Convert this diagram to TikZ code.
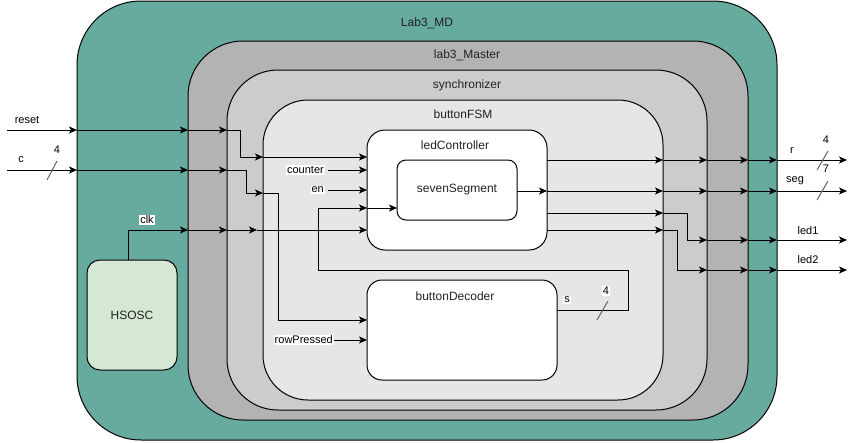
\documentclass[tikz,border=0pt]{standalone}
\usepackage{fontspec}
\setmainfont{Liberation Sans}
\usetikzlibrary{arrows.meta}
\definecolor{tealmd}{HTML}{67AB9F}
\definecolor{gA}{HTML}{B3B3B3}
\definecolor{gB}{HTML}{CCCCCC}
\definecolor{gC}{HTML}{E6E6E6}
\definecolor{hsg}{HTML}{D5E8D4}
\definecolor{txt}{HTML}{222222}
\begin{document}
\begin{tikzpicture}[x=1pt,y=-1pt,
  box/.style={draw=black,line width=1pt,anchor=north west,inner sep=0pt,outer sep=0pt},
  lbl/.style={font=\fontsize{12}{14}\selectfont,text=txt,inner sep=0pt},
  sl/.style={font=\fontsize{11}{13}\selectfont,text=black,inner sep=1pt},
  wl/.style={sl,fill=white},
  arr/.style={-{Stealth[length=8pt,width=7pt,inset=2pt]},line width=1pt},
  slash/.style={draw=gray!80!black,line width=1pt}]
\useasboundingbox (0,0) rectangle (857,442);

% containers
\node[box,fill=tealmd,minimum width=700pt,minimum height=439pt,rounded corners=64pt] (md) at (77,1) {};
\node[box,fill=gA,minimum width=560pt,minimum height=379pt,rounded corners=55pt] (master) at (188,41) {};
\node[box,fill=gB,minimum width=480pt,minimum height=340pt,rounded corners=51pt] (sync) at (227,70) {};
\node[box,fill=gC,minimum width=400pt,minimum height=300pt,rounded corners=45pt] (fsm) at (263,100) {};
\node[box,fill=white,minimum width=180pt,minimum height=120pt,rounded corners=18pt] (ledc) at (367,130) {};
\node[box,fill=white,minimum width=120pt,minimum height=60pt,rounded corners=9pt] (seven) at (397,160) {};
\node[box,fill=white,minimum width=190pt,minimum height=100pt,rounded corners=15pt] (bdec) at (367,280) {};
\node[box,fill=hsg,minimum width=90pt,minimum height=110pt,rounded corners=13pt] (hsosc) at (87,260) {};

% titles
\node[lbl] (tmd) at (427,23) {Lab3\_MD};
\node[lbl] (tmaster) at (467,55) {lab3\_Master};
\node[lbl] (tsync) at (467,85) {synchronizer};
\node[lbl] (tfsm) at (463,114) {buttonFSM};
\node[lbl] (tledc) at (455,145) {ledController};
\node[lbl] (tseven) at (457,190) {sevenSegment};
\node[lbl] (tbdec) at (455,296) {buttonDecoder};
\node[lbl] (thsosc) at (132,315) {HSOSC};

% reset
\coordinate (rs0) at (7,130);
\coordinate (rs1) at (77,130);
\coordinate (rs2) at (188,130);
\coordinate (rs3) at (227,130);
\coordinate (rs4) at (263,157);
\coordinate (rs5) at (367,157);
\draw[arr] (rs0) -- (rs1);
\draw[arr] (rs1) -- (rs2);
\draw[arr] (rs2) -- (rs3);
\draw[arr] (rs3) -- (240,130) |- (rs4);
\draw[arr] (rs4) -- (rs5);
\node[sl] (treset) at (27,120) {reset};

% c
\coordinate (c0) at (7,170);
\coordinate (c1) at (77,170);
\coordinate (c2) at (188,170);
\coordinate (c3) at (227,170);
\coordinate (c4) at (263,193);
\coordinate (c5) at (367,320);
\draw[arr] (c0) -- (c1);
\draw[arr] (c1) -- (c2);
\draw[arr] (c2) -- (c3);
\draw[arr] (c3) -- (246,170) |- (c4);
\draw[arr] (c4) -- (278,193) |- (c5);
\node[sl] (tc) at (21,160) {c};
\node[sl] (tc4) at (57,150) {4};
\coordinate (cs1) at (47,180);
\coordinate (cs2) at (57,161);
\draw[slash] (cs1) -- (cs2);

% clk
\coordinate (ck0) at (128,260);
\coordinate (ck1) at (188,230);
\coordinate (ck2) at (227,230);
\coordinate (ck3) at (257,230);
\coordinate (ck4) at (367,230);
\draw[arr] (ck0) |- (ck1);
\draw[arr] (ck1) -- (ck2);
\draw[arr] (ck2) -- (ck3);
\draw[arr] (ck3) -- (ck4);
\node[wl] (tclk) at (147,220) {clk};

% counter, en, rowPressed
\node[wl,anchor=east] (tcounter) at (325,170) {counter};
\node[wl,anchor=east] (ten) at (325,190) {en};
\node[wl,anchor=east] (trow) at (334,340) {rowPressed};
\coordinate (cn1) at (367,170);
\coordinate (en1) at (367,190);
\coordinate (rp1) at (367,340);
\draw[arr] (328,170) -- (cn1);
\draw[arr] (328,190) -- (en1);
\draw[arr] (trow.east) -- (rp1);

% feedback s
\coordinate (s0) at (557,310);
\coordinate (fb1) at (367,208);
\coordinate (fb2) at (397,208);
\draw[arr] (s0) -- (628,310) -- (628,270) -- (318,270) |- (fb1);
\draw[arr] (fb1) -- (fb2);
\node[wl] (ts) at (567,300) {s};
\node[wl] (ts4) at (606,291) {4};
\coordinate (ss1) at (597,320);
\coordinate (ss2) at (608,301);
\draw[slash] (ss1) -- (ss2);

% outputs
\foreach \y/\n in {160/a,191/b}{
  \coordinate (o\n1) at (547,\y);
  \coordinate (o\n2) at (663,\y);
  \coordinate (o\n3) at (707,\y);
  \coordinate (o\n4) at (748,\y);
  \coordinate (o\n5) at (777,\y);
  \coordinate (o\n6) at (847,\y);
  \draw[arr] (o\n1) -- (o\n2);
  \draw[arr] (o\n2) -- (o\n3);
  \draw[arr] (o\n3) -- (o\n4);
  \draw[arr] (o\n4) -- (o\n5);
  \draw[arr] (o\n5) -- (o\n6);
}
\coordinate (ob0) at (517,191);
\draw[arr] (ob0) -- (ob1);

\coordinate (oc1) at (547,213);
\coordinate (oc2) at (663,213);
\coordinate (oc3) at (707,240);
\coordinate (oc4) at (748,240);
\coordinate (oc5) at (777,240);
\coordinate (oc6) at (847,240);
\draw[arr] (oc1) -- (oc2);
\draw[arr] (oc2) -- (687,213) |- (oc3);
\draw[arr] (oc3) -- (oc4);
\draw[arr] (oc4) -- (oc5);
\draw[arr] (oc5) -- (oc6);

\coordinate (od1) at (547,230);
\coordinate (od2) at (663,230);
\coordinate (od3) at (707,270);
\coordinate (od4) at (748,270);
\coordinate (od5) at (777,270);
\coordinate (od6) at (847,270);
\draw[arr] (od1) -- (od2);
\draw[arr] (od2) -- (677,230) |- (od3);
\draw[arr] (od3) -- (od4);
\draw[arr] (od4) -- (od5);
\draw[arr] (od5) -- (od6);

\node[sl] (tr) at (792,151) {r};
\node[sl] (tr4) at (826,140) {4};
\coordinate (rsl1) at (817,170);
\coordinate (rsl2) at (828,151);
\draw[slash] (rsl1) -- (rsl2);
\node[sl] (tseg) at (795,181) {seg};
\node[sl] (tseg7) at (826,169) {7};
\coordinate (gsl1) at (817,200);
\coordinate (gsl2) at (828,181);
\draw[slash] (gsl1) -- (gsl2);
\node[sl] (tled1) at (808,231) {led1};
\node[sl] (tled2) at (808,260) {led2};
\end{tikzpicture}
\end{document}
